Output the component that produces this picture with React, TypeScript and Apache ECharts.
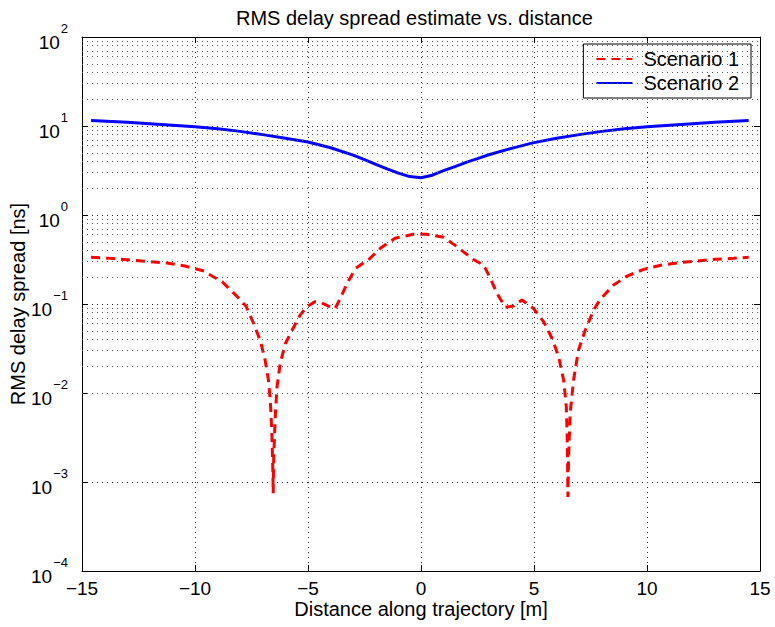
import React, { useEffect, useRef } from "react";
import * as echarts from "echarts";

const TITLE = "RMS delay spread estimate vs. distance";
const X_NAME = "Distance along trajectory [m]";
const Y_NAME = "RMS delay spread [ns]";
const seriesNames = ["Scenario 1", "Scenario 2"];

const xTicks = [-15, -10, -5, 0, 5, 10, 15];
const yDecades = [-4, -3, -2, -1, 0, 1, 2];
const minorMultipliers = [2, 3, 4, 5, 6, 7, 8, 9];

// Scenario 1 (red dashed)
const redX = [
  -14.6, -13.6, -12.85, -12.05, -11.25, -10.45, -9.6, -9.4, -8.8, -8.2, -7.75, -7.4, -7.1, -6.9,
  -6.75, -6.67, -6.6, -6.56, -6.54, -6.52, -6.45, -6.37, -6.23, -6.0, -5.7, -5.35, -5.05, -4.7,
  -4.4, -4.0, -3.8, -3.57, -3.27, -2.9, -2.3, -1.8, -1.15, -0.35, 0.25, 1.0, 1.6, 2.3, 2.77,
  3.07, 3.36, 3.73, 4.1, 4.47, 4.98, 5.43, 5.8, 6.09, 6.31, 6.43, 6.48, 6.5, 6.53, 6.6, 6.75,
  6.97, 7.27, 7.64, 7.93, 8.52, 9.12, 9.85, 10.66, 11.4, 12.21, 13.02, 13.83, 14.5,
];
const redY = [
  0.335, 0.324, 0.312, 0.3, 0.289, 0.267, 0.235, 0.217, 0.178, 0.126, 0.095, 0.06, 0.038, 0.0235,
  0.014, 0.0083, 0.0036, 0.0015, 0.00075, 0.0018, 0.0054, 0.0118, 0.0215, 0.036, 0.051, 0.075, 0.093, 0.106,
  0.103, 0.092, 0.089, 0.116, 0.171, 0.251, 0.318, 0.423, 0.547, 0.607, 0.607, 0.561, 0.44, 0.318, 0.274,
  0.194, 0.132, 0.092, 0.095, 0.111, 0.089, 0.063, 0.041, 0.0256, 0.014, 0.007, 0.0025, 0.00068, 0.0019, 0.0059, 0.014,
  0.0304, 0.051, 0.0857, 0.113, 0.163, 0.206, 0.245, 0.274, 0.291, 0.304, 0.318, 0.326, 0.335,
];

// Scenario 2 (blue solid)
const blueX = [
  -14.6, -13, -12, -11, -10, -9, -8, -7, -6, -5, -4, -3, -2.5, -2, -1.5, -1, -0.5, 0,
  0.5, 1, 1.5, 2, 2.5, 3, 4, 5, 6, 7, 8, 9, 10, 11, 12, 13, 14.5,
];
const blueY = [
  11.5, 11.0, 10.6, 10.2, 9.8, 9.3, 8.7, 8.0, 7.3, 6.6, 5.7, 4.7, 4.2, 3.7, 3.3, 2.95, 2.7, 2.62,
  2.8, 3.15, 3.5, 3.9, 4.3, 4.75, 5.6, 6.5, 7.3, 8.0, 8.7, 9.3, 9.8, 10.2, 10.6, 11.0, 11.5,
];

const FONT = "'Liberation Sans', Arial, Helvetica, sans-serif";

export default function App() {
  const ref = useRef<HTMLDivElement>(null);

  useEffect(() => {
    if (!ref.current) return;
    const chart = echarts.init(ref.current, null, { renderer: "svg" });

    const minorValues: number[] = [];
    for (const d of yDecades.slice(0, -1)) {
      for (const m of minorMultipliers) minorValues.push(m * Math.pow(10, d));
    }
    const minusify = (s: string) => s.replace(/-/g, "\u2212");
    const supLabel = (v: number) => {
      const e = Math.round(Math.log10(v));
      return `{b|10}{s|${minusify(String(e))}}`;
    };

    const axisLineStyle = { color: "#000", width: 1 };
    const gridDots = { color: "#222", width: 1, type: [1, 4] };

    chart.setOption({
      animation: false,
      backgroundColor: "#fff",
      textStyle: { fontFamily: FONT },
      title: {
        text: TITLE,
        left: 236,
        top: 8,
        padding: 0,
        textStyle: { fontFamily: FONT, fontSize: 20, fontWeight: "normal", color: "#000" },
      },
      legend: {
        data: seriesNames,
        orient: "vertical",
        right: 24,
        top: 44,
        backgroundColor: "#fff",
        borderColor: "#000",
        borderWidth: 1,
        borderRadius: 0,
        padding: [5, 12, 5, 12],
        itemGap: 4,
        itemWidth: 36,
        itemHeight: 14,
        itemStyle: { opacity: 0, borderWidth: 0 },
        textStyle: { fontFamily: FONT, fontSize: 20, color: "#000", padding: [0, 0, 0, 6] },
      },
      grid: {
        left: 82,
        right: 15,
        top: 37,
        bottom: 56,
        containLabel: false,
        outerBoundsMode: "none",
      },
      xAxis: [
        {
          type: "value",
          min: xTicks[0],
          max: xTicks[xTicks.length - 1],
          interval: 5,
          position: "bottom",
          axisLine: { show: true, onZero: false, lineStyle: axisLineStyle },
          axisTick: { show: true, inside: true, length: 6, lineStyle: axisLineStyle },
          axisLabel: {
            color: "#000",
            fontFamily: FONT,
            fontSize: 19,
            margin: 8,
            formatter: (v: number) => minusify(String(v)),
          },
          splitLine: { show: true, lineStyle: gridDots },
          name: X_NAME,
          nameLocation: "middle",
          nameGap: 28,
          nameMoveOverlap: false,
          nameTextStyle: { fontFamily: FONT, fontSize: 20, color: "#000" },
        },
        {
          type: "value",
          min: xTicks[0],
          max: xTicks[xTicks.length - 1],
          interval: 5,
          position: "top",
          axisLine: { show: true, onZero: false, lineStyle: axisLineStyle },
          axisTick: { show: true, inside: true, length: 6, lineStyle: axisLineStyle },
          axisLabel: { show: false },
          splitLine: { show: false },
        },
      ],
      yAxis: [
        {
          type: "log",
          logBase: 10,
          min: Math.pow(10, yDecades[0]),
          max: Math.pow(10, yDecades[yDecades.length - 1]),
          splitNumber: 6,
          position: "left",
          axisLine: { show: true, onZero: false, lineStyle: axisLineStyle },
          axisTick: { show: true, inside: true, length: 6, lineStyle: axisLineStyle },
          axisLabel: {
            margin: 14,
            formatter: supLabel,
            rich: {
              b: { fontFamily: FONT, fontSize: 19, color: "#000", lineHeight: 30, verticalAlign: "bottom" },
              s: { fontFamily: FONT, fontSize: 13, color: "#000", lineHeight: 30, verticalAlign: "top", padding: [0, 0, 0, 1] },
            },
          },
          splitLine: { show: true, lineStyle: gridDots },
          name: Y_NAME,
          nameLocation: "middle",
          nameGap: 54,
          nameRotate: 90,
          nameMoveOverlap: false,
          nameTextStyle: { fontFamily: FONT, fontSize: 20, color: "#000" },
        },
        {
          type: "log",
          logBase: 10,
          min: Math.pow(10, yDecades[0]),
          max: Math.pow(10, yDecades[yDecades.length - 1]),
          splitNumber: 6,
          position: "right",
          axisLine: { show: true, onZero: false, lineStyle: axisLineStyle },
          axisTick: { show: true, inside: true, length: 6, lineStyle: axisLineStyle },
          axisLabel: { show: false },
          splitLine: { show: false },
        },
      ],
      series: [
        {
          name: "minor-grid",
          type: "line",
          data: [],
          silent: true,
          z: 1,
          markLine: {
            silent: true,
            symbol: ["none", "none"],
            label: { show: false },
            lineStyle: { color: "#555", width: 1, type: [1, 4] },
            data: minorValues.map((v) => ({ yAxis: v })),
          },
        },
        {
          name: seriesNames[0],
          type: "line",
          data: redX.map((x, i) => [x, redY[i]]),
          symbol: "none",
          showSymbol: false,
          z: 3,
          lineStyle: { color: "#ff0000", width: 3, type: [9, 6] },
          itemStyle: { color: "#ff0000" },
        },
        {
          name: seriesNames[1],
          type: "line",
          data: blueX.map((x, i) => [x, blueY[i]]),
          symbol: "none",
          showSymbol: false,
          z: 3,
          lineStyle: { color: "#0000ff", width: 3, type: "solid" },
          itemStyle: { color: "#0000ff" },
        },
      ],
    });

    return () => chart.dispose();
  }, []);

  return (
    <div
      ref={ref}
      style={{ position: "absolute", left: 0, top: 0, width: 775, height: 627, background: "#fff" }}
    />
  );
}
